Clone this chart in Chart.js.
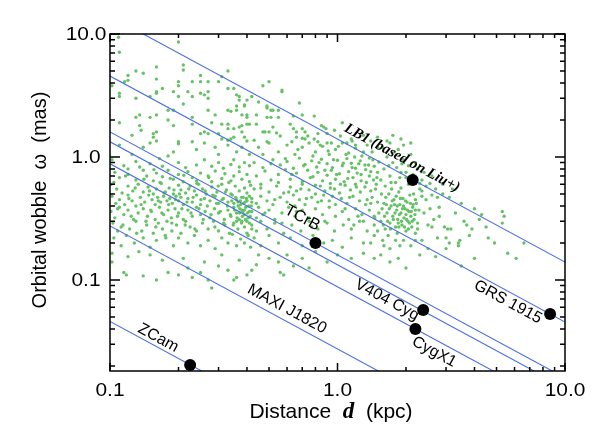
<!DOCTYPE html>
<html>
<head>
<meta charset="utf-8">
<script src="https://cdn.jsdelivr.net/npm/chart.js@4/dist/chart.umd.min.js"></script>
<style>
  html, body { margin:0; padding:0; background:#fff; }
  canvas { display:block; }
</style>
</head>
<body>
<canvas id="chart" width="598" height="441" style="width:598px;height:441px"></canvas>
<script>
// Orbital wobble vs distance, log-log
const SANS = '"Liberation Sans", Arial, sans-serif';
const SERIF = '"Liberation Serif", "Times New Roman", serif';

const xRange = [0.1, 10];
const yRange = [0.0182, 10];
const majorTicks = [0.1, 1, 10];
const tickLabels = ['0.1', '1.0', '10.0'];
const xMinorTicks = [0.2,0.3,0.4,0.5,0.6,0.7,0.8,0.9,2,3,4,5,6,7,8,9];
const yMinorTicks = [0.02,0.03,0.04,0.05,0.06,0.07,0.08,0.09,0.2,0.3,0.4,0.5,0.6,0.7,0.8,0.9,2,3,4,5,6,7,8,9];

// wobble = k / d, one line per source
const lineK = [1.4, 0.455, 0.16, 0.133, 0.088, 0.0275, 0.0046];

// black dots
const srcName = ['LB1', 'TCrB', 'V404 Cyg', 'CygX1', 'GRS 1915', 'ZCam'];
const srcD = [2.14, 0.80, 2.38, 2.20, 8.6, 0.225];
const srcW = [0.65, 0.20, 0.057, 0.040, 0.053, 0.0204];

// rotated labels (centre of the text)
const labelText = ['LB1 (based on Liu+)', 'TCrB', 'V404 Cyg', 'GRS 1915', 'CygX1', 'MAXI J1820', 'ZCam'];
const labelD = [1.92, 0.70, 1.65, 5.61, 2.66, 0.60, 0.163];
const labelW = [0.98, 0.319, 0.0687, 0.0662, 0.026, 0.058, 0.0337];

// green population, [d, wobble]
const cloudTop = [
[0.109,9.4],[0.20,8.6],[0.11,7.1],[0.21,5.6],[0.21,5.1],[0.13,5.0],[0.14,4.8],[0.16,5.4],[0.12,4.6],[0.12,4.2],
[0.116,4.1],[0.102,3.8],[0.16,4.3],[0.20,4.1],[0.20,3.8],[0.23,4.1],[0.25,4.6],[0.25,4.1],[0.27,4.1],[0.30,4.1],
[0.31,4.5],[0.33,5.0],[0.17,3.6],[0.16,3.4],[0.16,3.3],[0.19,3.4],[0.15,3.1],[0.11,3.3],[0.11,3.1],[0.13,3.0],
[0.20,3.1],[0.22,3.4],[0.23,3.1],[0.25,3.3],[0.26,3.2],[0.27,3.4],[0.27,3.0],[0.21,2.7],[0.33,3.6],[0.35,3.6],
[0.36,3.2],[0.37,3.1],[0.37,2.9],[0.36,2.6],[0.39,2.6],[0.40,2.9],[0.27,2.4],[0.18,2.4],[0.19,2.4],[0.33,2.4],
[0.34,2.35],[0.36,2.4],[0.40,2.2],[0.38,2.2],[0.16,2.2],[0.15,2.1],[0.13,2.1],[0.135,2.2],[0.23,2.1],[0.29,2.2],
[0.11,1.9],[0.18,2.0],[0.19,1.8],[0.23,1.85],[0.28,1.9],[0.31,1.85],[0.33,1.85],[0.33,1.7],[0.35,1.7],[0.37,1.75],
[0.38,1.8],[0.40,1.85],[0.38,1.6],[0.135,1.8],[0.137,1.65],[0.125,1.5],[0.155,1.55],[0.16,1.6],[0.155,1.45],[0.25,1.55],
[0.26,1.6],[0.27,1.55],[0.30,1.55],[0.31,1.4],[0.33,1.37],[0.35,1.45],[0.39,1.45],[0.34,1.4],[0.16,1.35],[0.20,1.33],
[0.23,1.33],
[0.47,3.8],[0.50,4.1],[0.57,3.4],[0.57,3.5],[0.42,3.1],[0.45,2.8],[0.49,2.6],[0.49,2.5],[0.51,2.4],[0.52,2.4],
[0.55,2.4],[0.39,2.65],[0.40,2.1],[0.44,2.2],[0.49,2.1],[0.51,2.1],[0.55,2.1],[0.68,2.75],[0.70,2.2],[0.79,2.15],
[0.64,2.15],[0.41,1.85],[0.44,1.85],[0.47,1.6],[0.48,1.6],[0.50,1.6],[0.52,1.75],[0.54,1.57],[0.56,1.48],[0.64,1.7],
[0.66,1.6],[0.70,1.7],[0.72,1.6],[0.74,1.48],[0.85,1.8],[0.89,1.7],[0.90,1.55],[0.82,1.55],[0.72,1.4],[0.82,1.33],
[1.05,1.9],[0.40,1.35],[0.43,1.37],[0.49,1.33],[0.87,1.75],[0.97,1.65],[0.62,1.85],[0.70,1.42],[0.66,1.45],[0.79,1.4],
[0.84,1.25],[0.94,1.3],[1.03,1.48],[1.1,1.3],[1.2,1.25],[1.15,1.4]
];

const cloudLeft = [
[0.11,1.25],[0.14,1.2],[0.15,1.3],[0.19,1.1],[0.2,1.28],[0.24,1.15],[0.26,1.3],[0.29,1.2],[0.3,1.05],[0.33,1.25],
[0.36,1.1],[0.38,1.2],[0.41,1.05],[0.18,1.02],[0.125,1.05],
[0.102,0.95],[0.115,0.85],[0.13,0.92],[0.135,0.83],[0.15,0.88],[0.165,0.97],[0.2,0.9],[0.215,0.82],[0.24,0.86],[0.26,0.95],
[0.28,0.84],[0.3,0.9],[0.315,0.81],[0.34,0.87],[0.35,0.95],[0.37,0.83],[0.39,0.9],[0.41,0.85],[0.12,0.8],[0.17,0.84],
[0.105,0.75],[0.11,0.68],[0.12,0.72],[0.13,0.65],[0.14,0.78],[0.145,0.7],[0.155,0.64],[0.16,0.74],[0.17,0.69],[0.18,0.78],
[0.19,0.66],[0.2,0.72],[0.21,0.63],[0.22,0.76],[0.23,0.68],[0.24,0.64],[0.25,0.74],[0.27,0.7],[0.28,0.63],[0.29,0.77],
[0.31,0.67],[0.32,0.73],[0.34,0.64],[0.35,0.7],[0.37,0.76],[0.38,0.66],[0.4,0.72],[0.41,0.63],
[0.101,0.6],[0.107,0.55],[0.113,0.51],[0.12,0.58],[0.126,0.53],[0.133,0.6],[0.14,0.52],[0.147,0.57],[0.155,0.5],[0.16,0.55],
[0.168,0.61],[0.175,0.52],[0.182,0.56],[0.19,0.5],[0.2,0.59],[0.205,0.54],[0.215,0.51],[0.225,0.58],[0.235,0.53],[0.245,0.6],
[0.255,0.55],[0.265,0.5],[0.28,0.57],[0.295,0.52],[0.31,0.6],[0.325,0.54],[0.34,0.5],[0.355,0.58],[0.37,0.53],[0.39,0.56],
[0.4,0.51],[0.415,0.59],
[0.102,0.48],[0.106,0.42],[0.11,0.45],[0.116,0.41],[0.12,0.49],[0.125,0.44],[0.13,0.4],[0.136,0.47],[0.142,0.43],[0.148,0.49],
[0.153,0.45],[0.158,0.41],[0.162,0.47],[0.167,0.43],[0.172,0.48],[0.178,0.44],[0.183,0.46],[0.188,0.42],[0.195,0.48],[0.2,0.44],
[0.205,0.47],[0.21,0.41],[0.22,0.46],[0.23,0.43],[0.24,0.49],[0.25,0.41],[0.26,0.46],[0.275,0.44],[0.29,0.48],[0.3,0.42],
[0.315,0.46],[0.33,0.43],[0.345,0.49],[0.36,0.45],[0.375,0.41],[0.385,0.47],[0.4,0.44],[0.41,0.48],
[0.101,0.36],[0.105,0.32],[0.11,0.39],[0.115,0.34],[0.12,0.37],[0.127,0.31],[0.133,0.35],[0.14,0.38],[0.146,0.33],[0.152,0.36],
[0.158,0.31],[0.165,0.39],[0.172,0.34],[0.18,0.37],[0.186,0.32],[0.193,0.38],[0.2,0.35],[0.21,0.31],[0.22,0.37],[0.23,0.33],
[0.24,0.39],[0.25,0.34],[0.262,0.36],[0.275,0.32],[0.288,0.38],[0.3,0.35],[0.318,0.31],[0.33,0.37],[0.34,0.33],[0.35,0.39],
[0.36,0.35],[0.37,0.31],[0.38,0.37],[0.39,0.34],[0.395,0.39],[0.405,0.32],[0.41,0.36],[0.418,0.4],
[0.103,0.29],[0.108,0.25],[0.114,0.28],[0.122,0.26],[0.13,0.3],[0.138,0.25],[0.145,0.28],[0.155,0.24],[0.163,0.29],[0.17,0.26],
[0.178,0.3],[0.187,0.25],[0.196,0.28],[0.205,0.24],[0.215,0.3],[0.225,0.27],[0.24,0.25],[0.255,0.29],[0.27,0.26],[0.285,0.3],
[0.3,0.25],[0.32,0.28],[0.335,0.24],[0.35,0.29],[0.365,0.26],[0.38,0.3],[0.39,0.27],[0.4,0.24],[0.41,0.29],[0.42,0.26],
[0.104,0.22],[0.112,0.19],[0.118,0.23],[0.128,0.2],[0.14,0.22],[0.15,0.185],[0.16,0.21],[0.175,0.23],[0.19,0.19],[0.2,0.22],
[0.22,0.2],[0.235,0.23],[0.25,0.19],[0.27,0.21],[0.29,0.18],[0.31,0.22],[0.33,0.2],[0.345,0.235],[0.36,0.19],[0.375,0.215],
[0.39,0.2],[0.405,0.23],[0.415,0.185],
[0.104,0.62],[0.108,0.38],[0.112,0.27],[0.117,0.7],[0.121,0.46],[0.124,0.33],[0.129,0.56],[0.131,0.24],[0.137,0.41],[0.141,0.66],
[0.144,0.3],[0.149,0.53],[0.151,0.37],[0.156,0.79],[0.159,0.27],[0.163,0.44],[0.166,0.62],[0.169,0.35],[0.173,0.51],[0.176,0.22],
[0.181,0.41],[0.184,0.67],[0.187,0.29],[0.191,0.54],[0.194,0.45],[0.198,0.33],[0.202,0.5],[0.207,0.38],[0.211,0.71],[0.214,0.28],
[0.218,0.43],[0.222,0.55],[0.227,0.35],[0.232,0.47],[0.236,0.26],[0.241,0.61],[0.246,0.38],[0.251,0.45],[0.257,0.31],[0.262,0.53],
[0.268,0.4],[0.272,0.68],[0.278,0.34],[0.283,0.49],[0.289,0.27],[0.294,0.42],[0.299,0.58],[0.305,0.36],[0.311,0.45],[0.316,0.29],
[0.322,0.52],[0.328,0.4],[0.333,0.62],[0.338,0.34],[0.343,0.44],[0.348,0.28],[0.353,0.37],[0.357,0.47],[0.362,0.32],[0.366,0.4],
[0.371,0.35],[0.374,0.44],[0.378,0.29],[0.382,0.33],[0.386,0.42],[0.39,0.37],[0.394,0.31],[0.398,0.46],[0.402,0.35],[0.407,0.4],
[0.372,0.38],[0.384,0.36],[0.365,0.43],[0.392,0.43],[0.379,0.47],[0.36,0.3],[0.35,0.42],[0.4,0.3],[0.413,0.33],[0.42,0.43]
];

const cloudLow = [
[0.102,0.14],[0.115,0.115],[0.118,0.11],[0.134,0.17],[0.14,0.108],[0.16,0.1],[0.18,0.115],[0.2,0.11],[0.22,0.125],[0.23,0.105],
[0.25,0.115],[0.28,0.086],[0.27,0.1],[0.3,0.13],[0.33,0.12],[0.35,0.1],[0.36,0.105],[0.4,0.11],[0.42,0.12],[0.44,0.133],
[0.58,0.11],[0.56,0.115],[0.64,0.13],[0.102,0.165],[0.12,0.155],[0.15,0.16],[0.17,0.145],[0.21,0.15],[0.26,0.14],[0.31,0.16],
[0.37,0.145],[0.45,0.16],[0.5,0.15],[0.55,0.14]
];

const cloudMid = [
[0.45,1.2],[0.5,1.3],[0.55,1.1],[0.6,1.25],[0.65,1.05],[0.7,1.2],[0.75,1.3],[0.8,1.1],[0.86,1.22],[0.92,1.05],
[0.98,1.15],[1.05,1.3],[1.12,1.08],[1.2,1.18],[1.28,1.02],[1.35,1.25],[1.42,1.1],[1.5,1.2],[0.47,1.05],[0.63,1.33],
[0.9,1.3],[1.16,1.35],
[0.43,0.9],[0.47,0.82],[0.52,0.95],[0.56,0.86],[0.6,0.92],[0.64,0.81],[0.68,0.98],[0.72,0.87],[0.77,0.93],[0.81,0.83],
[0.85,0.96],[0.9,0.88],[0.95,0.82],[1.0,0.94],[1.05,0.85],[1.1,0.97],[1.15,0.89],[1.2,0.81],[1.26,0.93],[1.32,0.86],
[1.38,0.98],[1.45,0.84],[1.52,0.91],
[0.44,0.7],[0.48,0.77],[0.51,0.65],[0.55,0.72],[0.59,0.79],[0.62,0.66],[0.66,0.74],[0.7,0.63],[0.74,0.78],[0.78,0.69],
[0.82,0.75],[0.86,0.64],[0.9,0.71],[0.94,0.78],[0.98,0.66],[1.02,0.73],[1.07,0.63],[1.12,0.76],[1.17,0.68],[1.22,0.74],
[1.27,0.64],[1.33,0.79],[1.38,0.7],[1.44,0.65],[1.5,0.75],
[0.43,0.55],[0.46,0.6],[0.5,0.52],[0.54,0.58],[0.58,0.51],[0.62,0.57],[0.66,0.53],[0.7,0.6],[0.75,0.54],[0.8,0.5],
[0.84,0.58],[0.88,0.53],[0.93,0.61],[0.97,0.55],[1.02,0.51],[1.08,0.59],[1.14,0.54],[1.2,0.6],[1.26,0.52],[1.32,0.57],
[1.4,0.53],[1.48,0.6],
[0.42,0.46],[0.44,0.42],[0.46,0.48],[0.49,0.44],[0.52,0.41],[0.56,0.47],[0.6,0.43],[0.64,0.49],[0.68,0.45],[0.72,0.41],
[0.77,0.47],[0.82,0.43],[0.87,0.49],[0.92,0.44],[0.98,0.41],[1.04,0.46],[1.1,0.42],[1.17,0.48],[1.25,0.44],[1.33,0.41],
[1.42,0.47],[1.5,0.43],
[0.42,0.36],[0.44,0.32],[0.45,0.39],[0.47,0.34],[0.5,0.37],[0.53,0.31],[0.57,0.35],[0.61,0.39],[0.65,0.33],[0.7,0.37],
[0.75,0.32],[0.8,0.38],[0.86,0.34],[0.92,0.39],[0.98,0.33],[1.05,0.36],[1.12,0.31],[1.2,0.38],[1.28,0.34],[1.38,0.37],
[1.46,0.32],
[0.42,0.28],[0.44,0.25],[0.46,0.3],[0.49,0.26],[0.53,0.29],[0.58,0.24],[0.63,0.28],[0.69,0.25],[0.75,0.3],[0.82,0.26],
[0.9,0.29],[0.97,0.25],[1.06,0.28],[1.15,0.26],[1.25,0.3],[1.35,0.25],[1.45,0.28],
[0.43,0.22],[0.46,0.19],[0.5,0.23],[0.55,0.2],[0.62,0.22],[0.7,0.19],[0.78,0.23],[0.87,0.2],[0.95,0.21],[1.05,0.185],
[1.15,0.22],[1.3,0.2],[1.45,0.23],
[0.6,0.16],[0.7,0.15],[0.8,0.17],[0.9,0.14],[1.0,0.16],[1.15,0.15],[1.3,0.165],[0.75,0.125],
[0.46,0.56],[0.48,0.35],[0.51,0.88],[0.53,0.45],[0.55,0.62],[0.57,0.29],[0.59,0.97],[0.61,0.52],[0.63,0.72],[0.65,0.4],
[0.67,1.15],[0.69,0.55],[0.71,0.85],[0.73,0.46],[0.76,0.68],[0.78,1.02],[0.8,0.59],[0.83,0.9],[0.85,0.44],[0.88,0.78],
[0.91,1.12],[0.93,0.56],[0.96,0.95],[0.99,0.72],[1.01,1.22],[1.03,0.6],[1.06,0.89],[1.09,1.05],[1.11,0.67],[1.13,0.47],
[1.16,0.82],[1.19,1.0],[1.21,0.57],[1.24,0.88],[1.27,0.72],[1.3,1.1],[1.34,0.62],[1.37,0.86],[1.4,0.76],[1.43,0.95],
[1.47,0.55],[1.49,0.68],[0.95,0.48],[1.08,0.38],[1.23,0.33],[0.88,0.3],[0.77,0.27],[1.35,0.45],[1.18,0.28],[0.66,0.36]
];

const cloudRight = [
[5.3,0.36],[5.4,0.33],[5.3,0.29],[4.3,0.34],[3.9,0.26],[4.6,0.22],[4.9,0.2],[3.45,0.21],[3.4,0.2],[3.8,0.23],
[3.15,0.26],[3.05,0.26],[2.95,0.27],[2.75,0.22],[3.0,0.22],[3.1,0.2],[2.65,0.31],[2.6,0.27],[2.8,0.33],[2.8,0.39],
[3.1,0.47],[2.75,0.47],[2.6,0.49],[2.35,0.48],[2.35,0.53],[2.55,0.61],[2.3,0.61],[2.35,0.65],[2.25,0.8],[2.15,0.41],
[2.2,0.37],[2.25,0.29],[2.5,0.28],[2.25,0.26],[2.2,0.24],[2.2,0.21],[2.35,0.21],[1.88,0.19],[1.95,0.21],[2.1,0.19],
[1.8,0.21],[1.58,0.21],[1.6,0.19],[1.7,0.18],
[1.55,0.3],[1.6,0.42],[1.62,0.26],[1.65,0.35],[1.68,0.5],[1.7,0.29],[1.72,0.4],[1.75,0.33],[1.77,0.45],[1.8,0.27],
[1.82,0.37],[1.84,0.31],[1.86,0.52],[1.88,0.41],[1.9,0.35],[1.92,0.28],[1.94,0.46],[1.96,0.32],[1.98,0.38],[2.0,0.25],
[2.02,0.43],[2.04,0.3],[2.06,0.36],[2.08,0.49],[2.1,0.33],[2.12,0.27],[2.14,0.39],[2.17,0.31],[2.2,0.45],[1.57,0.38],
[1.67,0.23],[1.73,0.55],[1.83,0.24],[1.9,0.56],[2.0,0.34],[1.78,0.41],[1.63,0.47],[1.85,0.29],[1.95,0.4],[2.05,0.26],
[1.55,0.65],[1.6,0.8],[1.65,1.0],[1.7,0.7],[1.75,0.9],[1.8,0.62],[1.85,1.15],[1.9,0.75],[1.95,0.95],[2.0,0.68],
[2.05,0.85],[1.58,1.2],[1.7,1.3],[1.82,0.82],[1.95,1.25],[2.1,1.05],[1.62,0.58],[1.78,1.1],
[1.3,1.5],[1.4,1.35],[1.5,1.45],[1.65,1.35],[1.75,1.5],[1.9,1.4],[2.1,1.3],
[3.5,0.13],[4.0,0.15],[5.6,0.165],[6.1,0.15],[3.4,0.19],[3.0,0.18],[2.5,0.18],[6.6,0.2],[1.7,0.14],[2.0,0.125],
[1.45,0.15],[1.55,0.16],[1.85,0.15],[2.3,0.16],[2.7,0.155],[1.4,0.2],[1.5,0.25],[1.45,0.33],[1.4,0.42],[1.3,0.3],
[3.3,0.35],[3.6,0.3],[3.5,0.42],[4.0,0.38],[3.2,0.55],[2.9,0.6],[3.7,0.28],[4.5,0.27],[4.2,0.31],
[2.0,0.75],[2.2,0.9],[2.4,0.75],[2.6,0.7],[2.45,0.58],[2.7,0.55],[2.9,0.5],
[1.52,0.35],[1.56,0.5],[1.59,0.28],[1.61,0.33],[1.64,0.41],[1.66,0.3],[1.69,0.38],[1.71,0.26],[1.74,0.44],[1.76,0.31],
[1.79,0.35],[1.81,0.48],[1.83,0.4],[1.86,0.27],[1.87,0.34],[1.89,0.46],[1.91,0.3],[1.93,0.38],[1.97,0.27],[1.99,0.44],
[2.01,0.31],[2.03,0.37],[2.07,0.29],[2.09,0.42],[2.11,0.36],[2.13,0.3],[2.16,0.5],[2.19,0.34],[2.22,0.42],[2.28,0.37],
[1.72,0.62],[1.88,0.68],[2.05,0.6],[1.68,0.85],[1.92,0.88],[2.15,0.72],[2.3,0.55],[2.45,0.45],[2.4,0.35],[2.55,0.38]
];

const cloud = [...cloudTop, ...cloudLeft, ...cloudLow, ...cloudMid, ...cloudRight].map(p => ({x:p[0], y:p[1]}));

const lineSets = lineK.map(k => ({
  type:'line',
  data:[{x:xRange[0], y:k/xRange[0]}, {x:xRange[1], y:k/xRange[1]}],
  borderColor:'#4a6ee6', borderWidth:1.1, pointRadius:0, fill:false, clip:0, order:2
}));

function drawText(ctx, parts, x, y, align){
  // parts: [text, font]
  let w = 0;
  parts.forEach(p => { ctx.font = p[1]; w += ctx.measureText(p[0]).width; });
  let cx = align === 'center' ? x - w/2 : x;
  parts.forEach(p => { ctx.font = p[1]; ctx.fillText(p[0], cx, y); cx += ctx.measureText(p[0]).width; });
}

const decorPlugin = {
  id:'decor',
  afterDatasetsDraw(chart){
    const {ctx, scales:{x, y}} = chart;
    const ang = Math.atan2(y.getPixelForValue(0.1) - y.getPixelForValue(1), x.getPixelForValue(10) - x.getPixelForValue(1));
    ctx.save();
    ctx.fillStyle = '#000';
    ctx.textAlign = 'center';
    ctx.textBaseline = 'middle';
    labelText.forEach((t, i) => {
      ctx.save();
      ctx.translate(x.getPixelForValue(labelD[i]), y.getPixelForValue(labelW[i]));
      ctx.rotate(ang);
      ctx.font = i === 0 ? `italic bold 15px ${SERIF}` : `16px ${SANS}`;
      ctx.fillText(t, 0, 0);
      ctx.restore();
    });
    ctx.restore();
  },
  afterDraw(chart){
    const {ctx, chartArea:a, scales:{x, y}} = chart;
    ctx.save();
    ctx.strokeStyle = '#000';
    ctx.lineWidth = 1.5;
    ctx.strokeRect(a.left, a.top, a.right - a.left, a.bottom - a.top);
    const tx = (v, len) => {
      const px = x.getPixelForValue(v);
      ctx.beginPath();
      ctx.moveTo(px, a.bottom); ctx.lineTo(px, a.bottom - len);
      ctx.moveTo(px, a.top); ctx.lineTo(px, a.top + len);
      ctx.stroke();
    };
    const ty = (v, len) => {
      const py = y.getPixelForValue(v);
      ctx.beginPath();
      ctx.moveTo(a.left, py); ctx.lineTo(a.left + len, py);
      ctx.moveTo(a.right, py); ctx.lineTo(a.right - len, py);
      ctx.stroke();
    };
    majorTicks.forEach(v => { tx(v, 8); ty(v, 10); });
    xMinorTicks.forEach(v => tx(v, 4));
    yMinorTicks.forEach(v => ty(v, 5));

    // tick labels
    ctx.fillStyle = '#000';
    ctx.textAlign = 'center';
    ctx.textBaseline = 'middle';
    majorTicks.forEach((v, i) => {
      ctx.save();
      ctx.translate(x.getPixelForValue(v), 391);
      ctx.scale(1.1, 1);
      ctx.font = `19px ${SANS}`;
      ctx.fillText(tickLabels[i], 0, 0);
      ctx.restore();
      ctx.save();
      ctx.translate(86, y.getPixelForValue(v) + 1);
      ctx.scale(1.1, 1);
      ctx.font = `19px ${SANS}`;
      ctx.fillText(tickLabels[i], 0, 0);
      ctx.restore();
    });

    // axis titles
    ctx.textAlign = 'left';
    drawText(ctx, [['Distance  ', `21px ${SANS}`], ['d', `italic bold 23px ${SERIF}`], ['  (kpc)', `21px ${SANS}`]], 331, 412, 'center');
    ctx.save();
    ctx.translate(40, 200);
    ctx.rotate(-Math.PI/2);
    drawText(ctx, [['Orbital wobble  ', `20px ${SANS}`], ['\u03c9', `20px ${SANS}`], ['  (mas)', `20px ${SANS}`]], 0, 0, 'center');
    ctx.restore();
    ctx.restore();
  }
};

new Chart(document.getElementById('chart'), {
  type:'scatter',
  data:{
    datasets:[
      {data:srcD.map((d, i) => ({x:d, y:srcW[i]})), label:'sources', backgroundColor:'#000', borderWidth:0, pointRadius:6, clip:false, order:1},
      ...lineSets,
      {data:cloud, label:'population', backgroundColor:'#66c266', borderWidth:0, pointRadius:1.7, clip:0, order:3}
    ]
  },
  options:{
    responsive:false,
    animation:false,
    devicePixelRatio:1,
    layout:{padding:{left:110, right:33, top:34, bottom:70}},
    plugins:{legend:{display:false}, tooltip:{enabled:false}},
    scales:{
      x:{type:'logarithmic', min:xRange[0], max:xRange[1], display:false},
      y:{type:'logarithmic', min:yRange[0], max:yRange[1], display:false}
    }
  },
  plugins:[decorPlugin]
});
</script>
</body>
</html>
